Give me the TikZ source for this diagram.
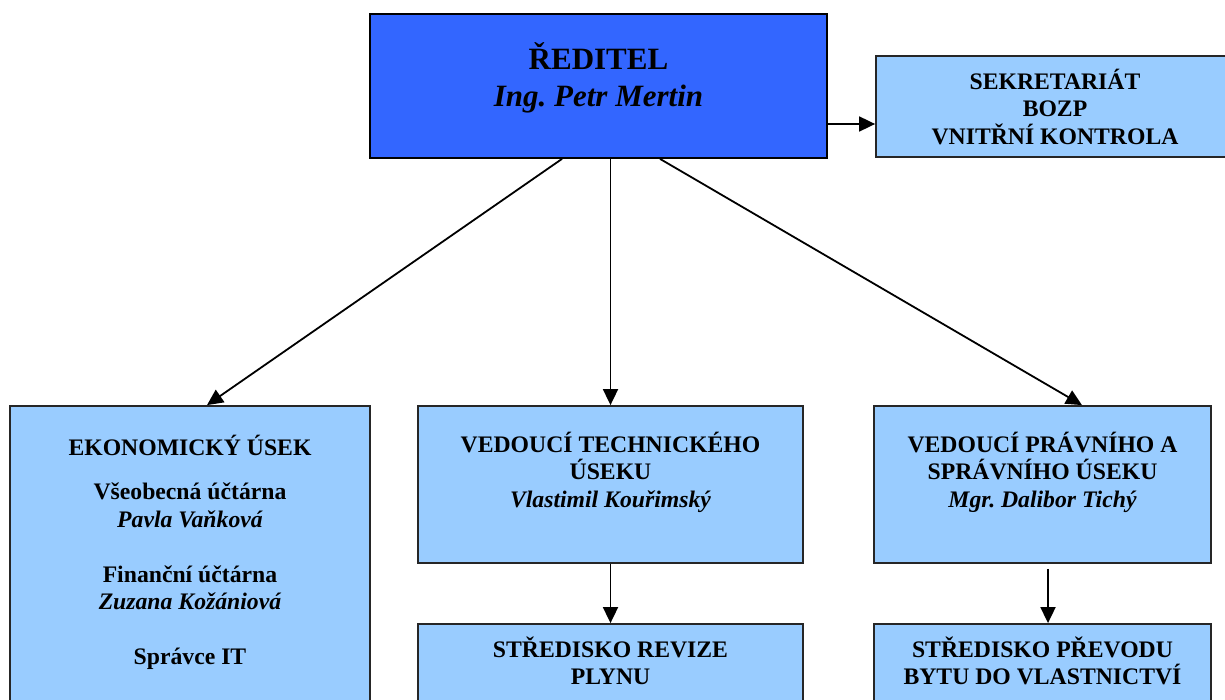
\documentclass[tikz,border=0pt]{standalone}
\usepackage{fontspec}
\setmainfont{Liberation Serif}
\usepackage{tikz}
\usetikzlibrary{positioning,arrows.meta}
\frenchspacing

\definecolor{dirblue}{HTML}{3366FF}
\definecolor{unitblue}{HTML}{99CCFF}

\tikzset{
  unit/.style={draw=black!85,line width=1.8pt,fill=unitblue,inner sep=0pt},
  txt/.style={align=center,inner sep=0pt,font=\fontsize{23.7}{27.5}\selectfont\bfseries},
  bigtxt/.style={align=center,inner sep=0pt,font=\fontsize{31}{37}\selectfont\bfseries},
  link/.style={line width=1.8pt,-{Triangle[length=16pt,width=15pt]}}
}
\newcommand{\fl}{\rule{0pt}{22pt}}

\begin{document}
\begin{tikzpicture}[x=1pt,y=-1pt]
  \clip (0,0) rectangle (1225,700);

  \node[unit,fill=dirblue,draw=black,minimum width=457pt,minimum height=144pt] (dir) at (598.5,86){};
  \node[unit,minimum width=358pt,minimum height=101pt] (sek) at (1055,106.5){};

  \node[unit,minimum width=360pt,minimum height=400pt] (eko) at (190,606){};
  \node[unit,minimum width=385pt,minimum height=157pt] (tech) at (610.5,484.5){};
  \node[unit,minimum width=337pt,minimum height=157pt] (prav) at (1042.5,484.5){};

  \node[unit,minimum width=385pt,minimum height=150pt] (rev) at (610.5,699){};
  \node[unit,minimum width=337pt,minimum height=150pt] (prevod) at (1042.5,699){};

  % texts
  \node[bigtxt,below=27pt of dir.north] (dirt){\rule{0pt}{29pt}ŘEDITEL\\ \textit{Ing. Petr Mertin}};
  \node[txt,below=12pt of sek.north] (sekt){\fl SEKRETARIÁT\\BOZP\\VNITŘNÍ KONTROLA};
  \node[txt,below=28pt of eko.north] (ekot){\fl EKONOMICKÝ ÚSEK\\[17pt]
    Všeobecná účtárna\\ \textit{Pavla Vaňková}\\[27.5pt]
    Finanční účtárna\\ \textit{Zuzana Kožániová}\\[27.5pt]
    Správce IT};
  \node[txt,below=25pt of tech.north] (techt){\fl VEDOUCÍ TECHNICKÉHO\\ÚSEKU\\ \textit{Vlastimil Kouřimský}};
  \node[txt,below=25pt of prav.north] (pravt){\fl VEDOUCÍ PRÁVNÍHO A\\SPRÁVNÍHO ÚSEKU\\ \textit{Mgr. Dalibor Tichý}};
  \node[txt,below=12pt of rev.north] (revt){\fl STŘEDISKO REVIZE\\PLYNU};
  \node[txt,below=12pt of prevod.north] (prevodt){\fl STŘEDISKO PŘEVODU\\BYTU DO VLASTNICTVÍ};

  % connectors
  \draw[link] ([yshift=-38pt]dir.east) -- ([yshift=-17.5pt]sek.west);
  \draw[link] ([xshift=-36.5pt]dir.south) -- ([xshift=17pt]eko.north);
  \draw[link] (dir.south -| tech.north) -- (tech.north);
  \draw[link] ([xshift=61.5pt]dir.south) -- ([xshift=39.5pt]prav.north);
  \draw[link] (tech) -- (rev);
  \draw[link] ([xshift=5.5pt,yshift=-5pt]prav.south) -- ([xshift=5.5pt]prevod.north);
\end{tikzpicture}
\end{document}
